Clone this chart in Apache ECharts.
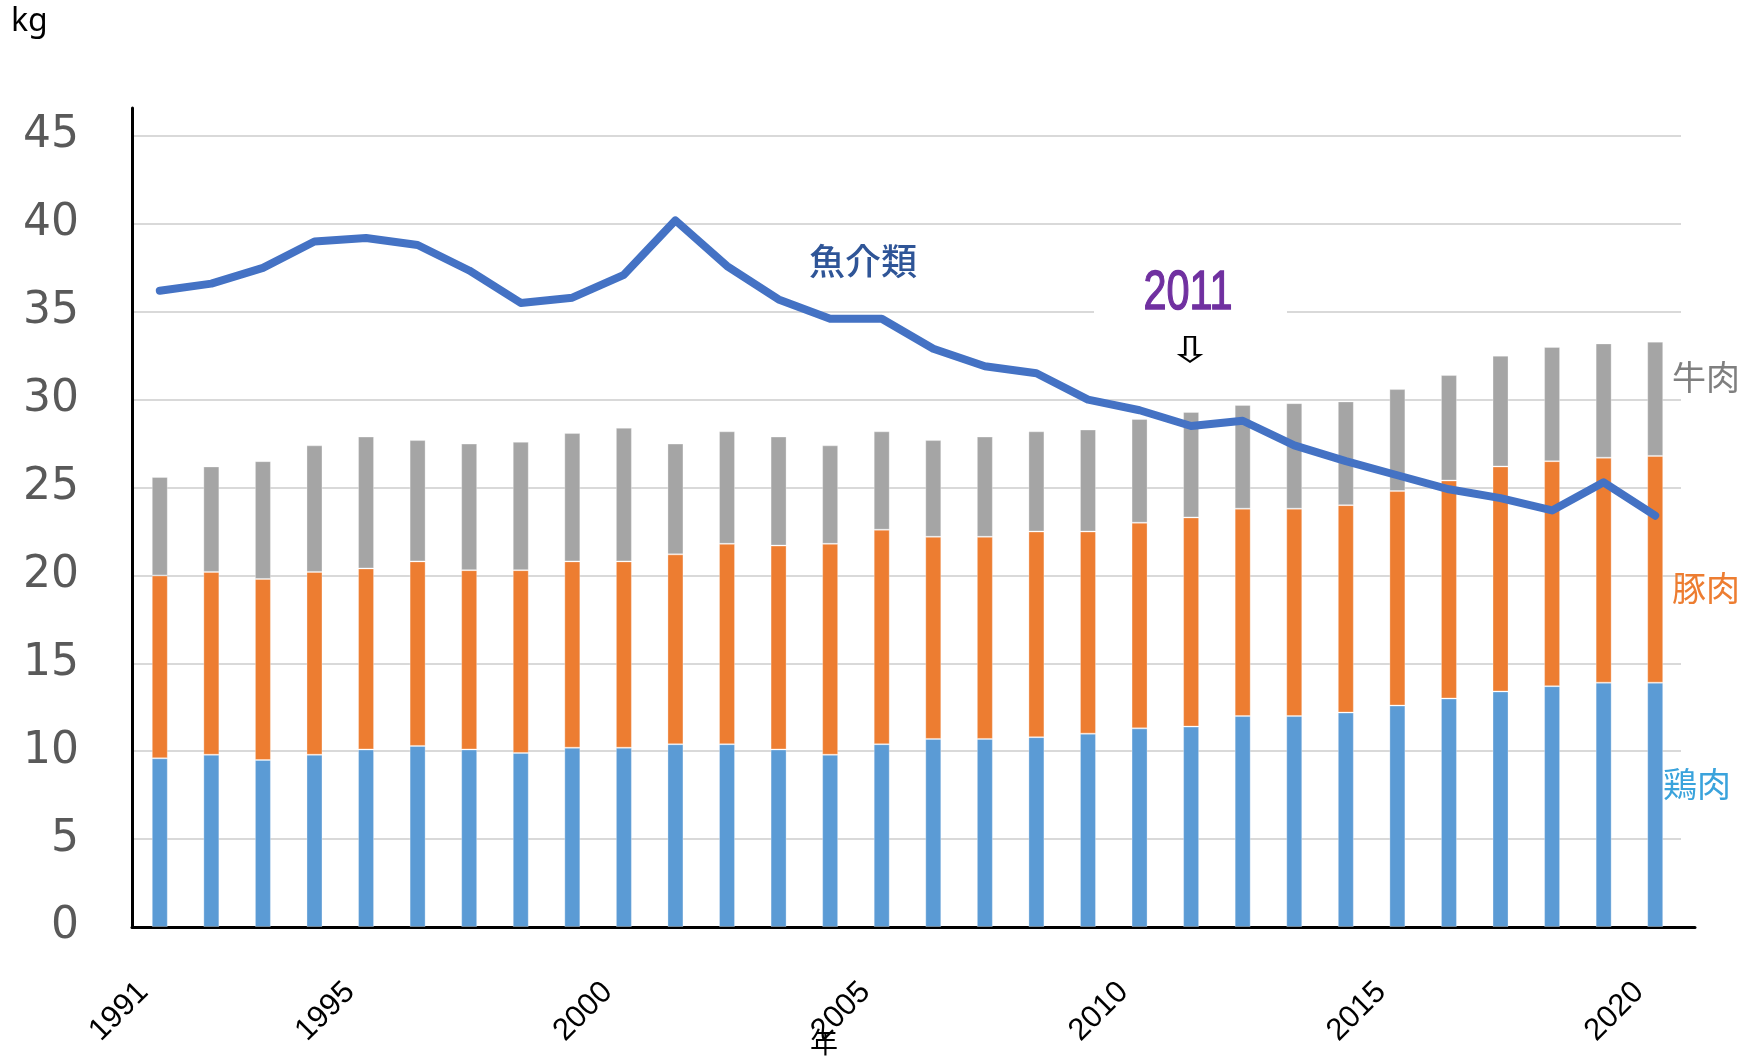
<!DOCTYPE html>
<html>
<head>
<meta charset="utf-8">
<script src="https://cdn.jsdelivr.net/npm/echarts@6/dist/echarts.min.js"></script>
<style>
html,body{margin:0;padding:0;background:#fff;}
#chart{width:1747px;height:1060px;}
</style>
</head>
<body>
<div id="chart"></div>
<script>
const years = ['1991','1992','1993','1994','1995','1996','1997','1998','1999','2000',
  '2001','2002','2003','2004','2005','2006','2007','2008','2009','2010',
  '2011','2012','2013','2014','2015','2016','2017','2018','2019','2020'];
const labeledYears = ['1991','1995','2000','2005','2010','2015','2020'];
const chicken = [9.6,9.8,9.5,9.8,10.1,10.3,10.1,9.9,10.2,10.2,
  10.4,10.4,10.1,9.8,10.4,10.7,10.7,10.8,11.0,11.3,
  11.4,12.0,12.0,12.2,12.6,13.0,13.4,13.7,13.9,13.9];
const pork = [10.4,10.4,10.3,10.4,10.3,10.5,10.2,10.4,10.6,10.6,
  10.8,11.4,11.6,12.0,12.2,11.5,11.5,11.7,11.5,11.7,
  11.9,11.8,11.8,11.8,12.2,12.4,12.8,12.8,12.8,12.9];
const beef = [5.6,6.0,6.7,7.2,7.5,6.9,7.2,7.3,7.3,7.6,
  6.3,6.4,6.2,5.6,5.6,5.5,5.7,5.7,5.8,5.9,
  6.0,5.9,6.0,5.9,5.8,6.0,6.3,6.5,6.5,6.5];
const fish = [36.2,36.6,37.5,39.0,39.2,38.8,37.35,35.5,35.8,37.1,
  40.2,37.6,35.7,34.6,34.6,32.9,31.9,31.5,30.0,29.4,
  28.5,28.8,27.4,26.5,25.7,24.9,24.4,23.7,25.3,23.4];

const chart = echarts.init(document.getElementById('chart'), null, {renderer: 'canvas'});
const cjk = '"Noto Sans CJK JP", "Noto Sans", sans-serif';

const option = {
  animation: false,
  backgroundColor: '#ffffff',
  grid: [
    {left: 134, right: 66, top: 136, bottom: 133},
    {left: 132, right: 52, top: 108, bottom: 133}
  ],
  xAxis: [
    {
      type: 'category', data: years, gridIndex: 0,
      axisLine: {show: false}, axisTick: {show: false},
      axisLabel: {
        rotate: 45, margin: 44, padding: [0, 23, 0, 0],
        fontSize: 31, fontFamily: '"Liberation Sans", Arial, sans-serif', color: '#000',
        interval: function (idx, val) { return labeledYears.indexOf(val) >= 0; }
      },
      splitLine: {show: false}
    },
    {
      type: 'value', gridIndex: 1, min: 0, max: 1,
      axisLine: {show: true, lineStyle: {color: '#000', width: 3}},
      axisTick: {show: false}, axisLabel: {show: false}, splitLine: {show: false}
    }
  ],
  yAxis: [
    {
      type: 'value', gridIndex: 0, min: 0, max: 45, interval: 5,
      axisLine: {show: false}, axisTick: {show: false},
      axisLabel: {margin: 55, padding: [12, 0, 0, 0], fontSize: 44, fontFamily: '"DejaVu Sans", sans-serif', color: '#595959'},
      splitLine: {show: true, lineStyle: {color: '#d9d9d9', width: 2}}
    },
    {
      type: 'value', gridIndex: 1, min: 0, max: 1,
      axisLine: {show: true, lineStyle: {color: '#000', width: 3}},
      axisTick: {show: false}, axisLabel: {show: false}, splitLine: {show: false}
    }
  ],
  series: [
    {name: '鶏肉', type: 'bar', stack: 'meat', data: chicken, barWidth: 16,
      itemStyle: {color: '#5b9bd5', borderColor: 'rgba(255,255,255,0.3)', borderWidth: 1}},
    {name: '豚肉', type: 'bar', stack: 'meat', data: pork, barWidth: 16,
      itemStyle: {color: '#ed7d31', borderColor: 'rgba(255,255,255,0.3)', borderWidth: 1}},
    {name: '牛肉', type: 'bar', stack: 'meat', data: beef, barWidth: 16,
      itemStyle: {color: '#a5a5a5', borderColor: 'rgba(255,255,255,0.3)', borderWidth: 1}},
    {name: '魚介類', type: 'line', data: fish, symbol: 'none', smooth: false, z: 5,
      lineStyle: {color: '#4472c4', width: 8, cap: 'round', join: 'round'}}
  ],
  graphic: [
    {type: 'text', left: 11, top: 6, style: {text: 'kg', font: '32px "Noto Sans", sans-serif', fill: '#000'}},
    {type: 'rect', shape: {x: 1094, y: 262, width: 193, height: 68}, style: {fill: '#fff'}, z: 10},
    {type: 'text', x: 1188, y: 294, scaleX: 0.74, z: 11, style: {text: '2011', font: '56px "Liberation Sans", Arial, sans-serif', fill: '#7030a0', stroke: '#7030a0', lineWidth: 1.4, align: 'center', verticalAlign: 'middle'}},
    {type: 'text', x: 1190, y: 353, scaleX: 1.5, z: 11, style: {text: '⇩', font: '36px "DejaVu Sans", sans-serif', fill: '#000', align: 'center', verticalAlign: 'middle'}},
    {type: 'text', x: 863, y: 261, z: 11, style: {text: '魚介類', font: '500 36px ' + cjk, fill: '#2f5597', align: 'center', verticalAlign: 'middle'}},
    {type: 'text', x: 1706, y: 377, z: 11, style: {text: '牛肉', font: '34px ' + cjk, fill: '#7f7f7f', align: 'center', verticalAlign: 'middle'}},
    {type: 'text', x: 1706, y: 588, z: 11, style: {text: '豚肉', font: '34px ' + cjk, fill: '#ed7d31', align: 'center', verticalAlign: 'middle'}},
    {type: 'text', x: 1697, y: 784, z: 11, style: {text: '鶏肉', font: '34px ' + cjk, fill: '#3aa3dc', align: 'center', verticalAlign: 'middle'}},
    {type: 'text', x: 824, y: 1042, z: 11, style: {text: '年', font: '28px ' + cjk, fill: '#000', align: 'center', verticalAlign: 'middle'}}
  ]
};
chart.setOption(option);
</script>
</body>
</html>
